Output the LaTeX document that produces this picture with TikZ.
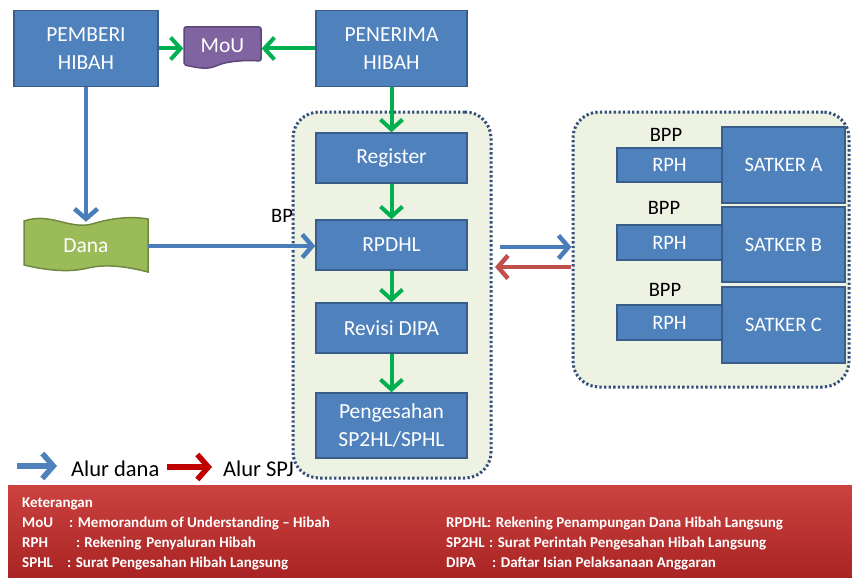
\documentclass[tikz,border=0pt]{standalone}
\usepackage{fontspec}
\setmainfont{Carlito}
\usetikzlibrary{arrows.meta}
\definecolor{boxblue}{HTML}{4F81BD}
\definecolor{boxedge}{HTML}{385D8A}
\definecolor{arrgreen}{HTML}{00B050}
\definecolor{arrblue}{HTML}{4A7EBB}
\definecolor{arrred}{HTML}{C0504D}
\definecolor{legred}{HTML}{C00000}
\definecolor{moufill}{HTML}{8064A2}
\definecolor{mouedge}{HTML}{5C4776}
\definecolor{danafill}{HTML}{9BBB59}
\definecolor{danaedge}{HTML}{71893F}
\definecolor{contfill}{HTML}{EDF2E2}
\definecolor{contedge}{HTML}{34507A}
\definecolor{barTop}{HTML}{CC423F}
\definecolor{barBot}{HTML}{A82424}
\tikzset{
  bluebox/.style={draw=boxedge, line width=1.5pt, fill=boxblue, text=white,
    font=\fontsize{21.5}{28}\selectfont, align=center, inner sep=0pt},
  smallbox/.style={bluebox, font=\fontsize{20.5}{26}\selectfont},
  container/.style={draw=contedge, line width=3pt, dash pattern=on 2.3pt off 2.3pt,
    fill=contfill, rounded corners=26pt, inner sep=0pt},
  garr/.style={draw=arrgreen, line width=4pt, -{Straight Barb[length=10pt,width=22pt]}},
  barr/.style={draw=arrblue, line width=4.5pt, -{Straight Barb[length=10pt,width=23pt]}},
  rarr/.style={draw=arrred, line width=4.5pt, -{Straight Barb[length=10pt,width=23pt]}},
  legarr/.style={line width=5.5pt, -{Straight Barb[length=11pt,width=25pt]}},
  plain/.style={inner sep=0pt, font=\fontsize{20.5}{24}\selectfont},
  legtext/.style={inner sep=0pt, anchor=base west, text=white, font=\fontsize{15}{18}\bfseries},
}
\begin{document}
\begin{tikzpicture}[x=1pt,y=-1pt]
\useasboundingbox (0,0) rectangle (852,578);
% containers
\node[container, minimum width=198pt, minimum height=366pt] (lcont) at (392,295) {};
\node[container, minimum width=276pt, minimum height=275pt] (rcont) at (711,249.5) {};
% top boxes
\node[bluebox, minimum width=144pt, minimum height=76pt] (pemberi) at (86,48.5) {PEMBERI\\HIBAH};
\node[bluebox, minimum width=151pt, minimum height=76pt] (penerima) at (391.5,48.5) {PENERIMA\\HIBAH};
% MoU document shape
\fill[moufill, draw=mouedge, line width=1.5pt, rounded corners=2pt]
  (184,27) -- (261,27) -- (261,61) .. controls (245,60) and (228,61) .. (216,66)
  .. controls (205,70) and (195,67) .. (184,65) -- cycle;
\node[inner sep=0pt, minimum width=78pt, minimum height=42pt, text=white,
  font=\fontsize{21.5}{24}\selectfont] (mou) at (222.5,46) {MoU};
% Dana wave shape
\fill[danafill, draw=danaedge, line width=1.5pt]
  (24,221) .. controls (50,212) and (70,230) .. (92,224)
  .. controls (112,218) and (130,216) .. (148,219) -- (148,272)
  .. controls (125,266) and (105,264) .. (88,268)
  .. controls (68,273) and (45,270) .. (24,265) -- cycle;
\node[inner sep=0pt, minimum width=124pt, minimum height=48pt, text=white,
  font=\fontsize{21.5}{24}\selectfont] (dana) at (86,246) {Dana};
% left column boxes
\node[bluebox, minimum width=151pt, minimum height=50pt] (register) at (391.5,158) {Register};
\node[bluebox, minimum width=151pt, minimum height=50pt] (rpdhl) at (391.5,245) {RPDHL};
\node[bluebox, minimum width=151pt, minimum height=50pt] (revisi) at (391.5,328) {Revisi DIPA};
\node[bluebox, minimum width=151pt, minimum height=65pt] (pengesahan) at (391.5,425.5) {Pengesahan\\SP2HL/SPHL};
% right boxes
\node[smallbox, minimum width=105pt, minimum height=34pt] (rpha) at (669.5,165) {RPH};
\node[smallbox, minimum width=123pt, minimum height=76pt] (satkera) at (783.5,165) {SATKER A};
\node[smallbox, minimum width=105pt, minimum height=35pt] (rphb) at (669.5,242.5) {RPH};
\node[smallbox, minimum width=123pt, minimum height=75pt] (satkerb) at (783.5,244.5) {SATKER B};
\node[smallbox, minimum width=105pt, minimum height=35pt] (rphc) at (669.5,322.5) {RPH};
\node[smallbox, minimum width=123pt, minimum height=76pt] (satkerc) at (783.5,325) {SATKER C};
% labels
\node[plain] (bp) at (282,215.5) {BP};
\node[plain] (bppa) at (666,135) {BPP};
\node[plain] (bppb) at (664,208) {BPP};
\node[plain] (bppc) at (665,289.5) {BPP};
% green arrows
\draw[garr] (pemberi.east) -- (pemberi.east -| mou.west);
\draw[garr] (penerima.west) -- (penerima.west -| mou.east);
\draw[garr] (penerima.south) -- (register.north);
\draw[garr] (register.south) -- (rpdhl.north);
\draw[garr] (rpdhl.south) -- (revisi.north);
\draw[garr] (revisi.south) -- (pengesahan.north);
% blue flow
\draw[barr] (pemberi.south) -- (dana.north);
\draw[barr] (dana.east) -- (dana.east -| rpdhl.west);
\coordinate (bstart) at (500,247);
\coordinate (rstart) at (571,267);
\coordinate (rend) at (495,267);
\draw[barr] (bstart) -- (bstart -| rcont.west);
\draw[rarr] (rstart) -- (rend);
% legend arrows
\coordinate (lb1) at (17,466);
\coordinate (lb2) at (57,466);
\coordinate (lr1) at (167,467);
\coordinate (lr2) at (212,467);
\draw[legarr, draw=boxblue] (lb1) -- (lb2);
\draw[legarr, draw=legred] (lr1) -- (lr2);
\node[plain, anchor=west, font=\fontsize{22.5}{26}\selectfont] (alurdana) at (71,469) {Alur dana};
\node[plain, anchor=west, font=\fontsize{22.5}{26}\selectfont] (alurspj) at (223,469) {Alur SPJ};
% keterangan bar
\shade[top color=barTop, bottom color=barBot] (8,485) rectangle (852,578);
\node[legtext] (ket) at (22,507) {Keterangan};
\node[legtext] (k1) at (22,527) {MoU};
\node[legtext] (k1t) at (69,527) {: Memorandum of Understanding -- Hibah};
\node[legtext] (k2) at (22,547) {RPH};
\node[legtext] (k2t) at (76,547) {:\hspace{4pt}Rekening\hspace{5pt}Penyaluran Hibah};
\node[legtext] (k3) at (22,567) {SPHL};
\node[legtext] (k3t) at (67,567) {: Surat Pengesahan Hibah Langsung};
\node[legtext] (k4) at (446,527) {RPDHL};
\node[legtext] (k4t) at (487,527) {: Rekening Penampungan Dana Hibah Langsung};
\node[legtext] (k5) at (446,547) {SP2HL};
\node[legtext] (k5t) at (489,547) {: Surat Perintah Pengesahan Hibah Langsung};
\node[legtext] (k6) at (446,567) {DIPA};
\node[legtext] (k6t) at (492,567) {: Daftar Isian Pelaksanaan Anggaran};
\end{tikzpicture}
\end{document}
